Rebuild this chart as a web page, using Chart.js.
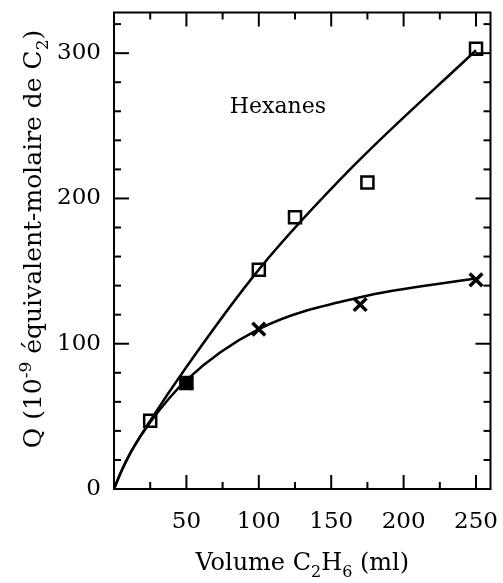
<!DOCTYPE html>
<html>
<head>
<meta charset="utf-8">
<script src="https://cdn.jsdelivr.net/npm/chart.js@4/dist/chart.umd.min.js"></script>
<style>
  html, body { margin: 0; padding: 0; background: #fff; }
</style>
</head>
<body>
<canvas id="qChart" width="503" height="583"></canvas>
<script>
// measured points (squares / crosses)
const squareX = [25, 50, 100, 125, 175, 250];
const squareY = [47, 73, 151, 187, 211, 303];
const crossX = [50, 100, 170, 250];
const crossY = [73, 110, 127, 144];

// the two drawn curves
const upperCurveX = [0, 5, 12, 25, 50, 100, 165, 250];
const upperCurveY = [0, 12, 26, 47, 84, 151, 222, 302];
const lowerCurveX = [0, 5, 12, 25, 50, 100, 170, 250];
const lowerCurveY = [0, 12, 26, 46, 75, 110, 132, 145];

// axis ticks
const xTickLabels = [50, 100, 150, 200, 250];
const xMinorTicks = [25, 75, 125, 175, 225];
const yTickLabels = [0, 100, 200, 300];
const yMinorTicks = [20, 40, 60, 80, 120, 140, 160, 180, 220, 240, 260, 280, 320];

const FONT = "'DejaVu Serif', 'Liberation Serif', serif";

function toPoints(xs, ys) {
    return xs.map((x, i) => ({ x: x, y: ys[i] }));
}

// draws a line of text made of normal / sub / sup pieces, centred on 0
function drawRich(ctx, parts, size) {
    let total = 0;
    parts.forEach(p => {
        ctx.font = (p.s ? Math.round(size * 0.68) : size) + "px " + FONT;
        p.w = ctx.measureText(p.t).width;
        total += p.w;
    });
    let x = -total / 2;
    parts.forEach(p => {
        ctx.font = (p.s ? Math.round(size * 0.68) : size) + "px " + FONT;
        let dy = 0;
        if (p.s === "sub") dy = size * 0.28;
        if (p.s === "sup") dy = -size * 0.42;
        ctx.fillText(p.t, x, dy);
        x += p.w;
    });
}

// frame, inward ticks on all four sides, axis titles and the label
const framePlugin = {
    id: "framePlugin",
    afterDraw(chart) {
        const ctx = chart.ctx;
        const a = chart.chartArea;
        const xs = chart.scales.x;
        const ys = chart.scales.y;

        ctx.save();
        ctx.strokeStyle = "#000";
        ctx.lineWidth = 2;
        ctx.strokeRect(a.left, a.top, a.right - a.left, a.bottom - a.top);

        function tick(x1, y1, x2, y2) {
            ctx.beginPath();
            ctx.moveTo(x1, y1);
            ctx.lineTo(x2, y2);
            ctx.stroke();
        }
        xTickLabels.forEach(v => {
            const px = xs.getPixelForValue(v);
            tick(px, a.bottom, px, a.bottom - 14);
            tick(px, a.top, px, a.top + 14);
        });
        xMinorTicks.forEach(v => {
            const px = xs.getPixelForValue(v);
            tick(px, a.bottom, px, a.bottom - 7);
            tick(px, a.top, px, a.top + 7);
        });
        yTickLabels.forEach(v => {
            const py = ys.getPixelForValue(v);
            tick(a.left, py, a.left + 15, py);
            tick(a.right, py, a.right - 15, py);
        });
        yMinorTicks.forEach(v => {
            const py = ys.getPixelForValue(v);
            tick(a.left, py, a.left + 7, py);
            tick(a.right, py, a.right - 7, py);
        });

        ctx.fillStyle = "#000";
        ctx.textBaseline = "alphabetic";
        ctx.textAlign = "left";

        // x title
        ctx.save();
        ctx.translate((a.left + a.right) / 2, 570);
        drawRich(ctx, [
            { t: "Volume C" }, { t: "2", s: "sub" }, { t: "H" }, { t: "6", s: "sub" }, { t: " (ml)" }
        ], 24);
        ctx.restore();

        // y title
        ctx.save();
        ctx.translate(41, 239);
        ctx.rotate(-Math.PI / 2);
        drawRich(ctx, [
            { t: "Q (10" }, { t: "-9", s: "sup" }, { t: " équivalent-molaire de C" }, { t: "2", s: "sub" }, { t: ")" }
        ], 25);
        ctx.restore();

        // series label
        ctx.font = "22px " + FONT;
        ctx.fillText("Hexanes", xs.getPixelForValue(80), ys.getPixelForValue(259));
        ctx.restore();
    }
};

new Chart(document.getElementById("qChart"), {
    type: "scatter",
    data: {
        datasets: [
            {
                type: "line",
                data: toPoints(upperCurveX, upperCurveY),
                borderColor: "#000",
                borderWidth: 2.5,
                pointRadius: 0,
                cubicInterpolationMode: "monotone",
                fill: false
            },
            {
                type: "line",
                data: toPoints(lowerCurveX, lowerCurveY),
                borderColor: "#000",
                borderWidth: 2.5,
                pointRadius: 0,
                cubicInterpolationMode: "monotone",
                fill: false
            },
            {
                data: toPoints(crossX, crossY),
                pointStyle: "crossRot",
                pointRadius: 9,
                borderColor: "#000",
                borderWidth: 3.5
            },
            {
                data: toPoints(squareX, squareY),
                pointStyle: "rect",
                pointRadius: 8.5,
                borderColor: "#000",
                borderWidth: 2.5,
                pointBackgroundColor: squareX.map(x => x === 50 ? "#000" : "#fff")
            }
        ]
    },
    options: {
        responsive: false,
        animation: false,
        layout: { padding: { top: 12, right: 8, left: 0, bottom: 0 } },
        plugins: { legend: { display: false }, tooltip: { enabled: false } },
        scales: {
            x: {
                type: "linear",
                min: 0,
                max: 260,
                afterBuildTicks: s => { s.ticks = xTickLabels.map(v => ({ value: v })); },
                afterFit: s => { s.height = 94; s.paddingLeft = 0; s.paddingRight = 0; },
                grid: { display: false, drawTicks: false },
                border: { display: false },
                ticks: { color: "#000", padding: 19, maxRotation: 0, font: { family: FONT, size: 23 } }
            },
            y: {
                min: 0,
                max: 328,
                afterBuildTicks: s => { s.ticks = yTickLabels.map(v => ({ value: v })); },
                afterFit: s => { s.width = 114; s.paddingTop = 0; s.paddingBottom = 0; },
                grid: { display: false, drawTicks: false },
                border: { display: false },
                ticks: { color: "#000", padding: 13, font: { family: FONT, size: 23 } }
            }
        }
    },
    plugins: [framePlugin]
});
</script>
</body>
</html>
